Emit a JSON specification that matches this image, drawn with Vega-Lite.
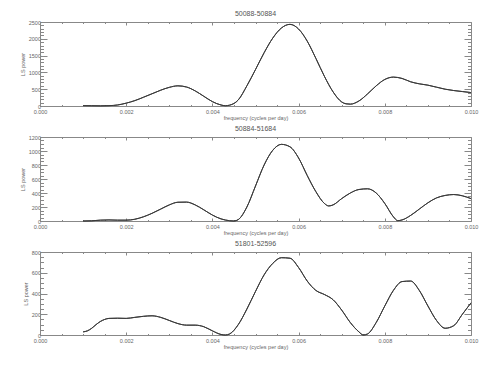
{
  "$schema": "https://vega.github.io/schema/vega-lite/v6.json",
  "background": "white",
  "padding": {"left": 20, "top": 10, "right": 4, "bottom": 4},
  "spacing": 4,
  "config": {
    "view": {"stroke": null},
    "font": "Liberation Sans",
    "axis": {"domainColor": "#888", "tickColor": "#888", "labelColor": "#666", "titleColor": "#666", "labelFont": "Liberation Sans", "titleFont": "Liberation Sans", "labelFontSize": 5.5, "titleFontSize": 5.5, "titleFontWeight": "normal", "grid": false, "domainWidth": 1, "tickWidth": 1},
    "title": {"font": "Liberation Sans", "fontSize": 7, "fontWeight": "normal", "color": "#555", "offset": 3},
    "line": {"color": "#3a3a3a", "strokeWidth": 1, "interpolate": "monotone"}
  },
  "datasets": {
    "p1": [
      {"f": 0.0010, "p": 10}, {"f": 0.0012, "p": 8}, {"f": 0.0014, "p": 5}, {"f": 0.0016, "p": 10},
      {"f": 0.0018, "p": 30}, {"f": 0.0020, "p": 85}, {"f": 0.0022, "p": 160}, {"f": 0.0024, "p": 260},
      {"f": 0.0026, "p": 365}, {"f": 0.0028, "p": 470}, {"f": 0.0030, "p": 555}, {"f": 0.0032, "p": 600},
      {"f": 0.0034, "p": 565}, {"f": 0.0036, "p": 450}, {"f": 0.0038, "p": 290}, {"f": 0.0040, "p": 130},
      {"f": 0.0042, "p": 30}, {"f": 0.0043, "p": 8}, {"f": 0.0044, "p": 25}, {"f": 0.0046, "p": 180},
      {"f": 0.0048, "p": 600}, {"f": 0.0050, "p": 1085}, {"f": 0.0052, "p": 1585}, {"f": 0.0054, "p": 2020},
      {"f": 0.0056, "p": 2320}, {"f": 0.0058, "p": 2430}, {"f": 0.0060, "p": 2290}, {"f": 0.0062, "p": 1930},
      {"f": 0.0064, "p": 1420}, {"f": 0.0066, "p": 880}, {"f": 0.0068, "p": 420}, {"f": 0.0070, "p": 120},
      {"f": 0.0071, "p": 65}, {"f": 0.0072, "p": 55}, {"f": 0.0074, "p": 150}, {"f": 0.0076, "p": 360},
      {"f": 0.0078, "p": 600}, {"f": 0.0080, "p": 790}, {"f": 0.0082, "p": 860}, {"f": 0.0084, "p": 820},
      {"f": 0.0086, "p": 720}, {"f": 0.0088, "p": 660}, {"f": 0.0090, "p": 620}, {"f": 0.0092, "p": 560},
      {"f": 0.0094, "p": 500}, {"f": 0.0096, "p": 460}, {"f": 0.0098, "p": 430}, {"f": 0.0100, "p": 400}
    ],
    "p2": [
      {"f": 0.0010, "p": 0}, {"f": 0.0012, "p": 3}, {"f": 0.0014, "p": 12}, {"f": 0.0016, "p": 15},
      {"f": 0.0018, "p": 12}, {"f": 0.0020, "p": 12}, {"f": 0.0022, "p": 25}, {"f": 0.0024, "p": 60},
      {"f": 0.0026, "p": 110}, {"f": 0.0028, "p": 170}, {"f": 0.0030, "p": 230}, {"f": 0.0032, "p": 268},
      {"f": 0.0034, "p": 270}, {"f": 0.0036, "p": 230}, {"f": 0.0038, "p": 160}, {"f": 0.0040, "p": 85},
      {"f": 0.0042, "p": 30}, {"f": 0.0044, "p": 4}, {"f": 0.0045, "p": 0}, {"f": 0.0046, "p": 20},
      {"f": 0.0048, "p": 200}, {"f": 0.0050, "p": 500}, {"f": 0.0052, "p": 800}, {"f": 0.0054, "p": 1010},
      {"f": 0.0056, "p": 1095}, {"f": 0.0058, "p": 1060}, {"f": 0.0060, "p": 900}, {"f": 0.0062, "p": 650},
      {"f": 0.0064, "p": 420}, {"f": 0.0066, "p": 250}, {"f": 0.0067, "p": 215}, {"f": 0.0068, "p": 230},
      {"f": 0.0070, "p": 320}, {"f": 0.0072, "p": 400}, {"f": 0.0074, "p": 450}, {"f": 0.0076, "p": 460},
      {"f": 0.0078, "p": 400}, {"f": 0.0080, "p": 250}, {"f": 0.0082, "p": 60}, {"f": 0.0083, "p": 5},
      {"f": 0.0084, "p": 15}, {"f": 0.0086, "p": 80}, {"f": 0.0088, "p": 170}, {"f": 0.0090, "p": 260},
      {"f": 0.0092, "p": 330}, {"f": 0.0094, "p": 365}, {"f": 0.0096, "p": 378}, {"f": 0.0098, "p": 360},
      {"f": 0.0100, "p": 320}
    ],
    "p3": [
      {"f": 0.0010, "p": 30}, {"f": 0.0011, "p": 40}, {"f": 0.0012, "p": 65}, {"f": 0.0013, "p": 100},
      {"f": 0.0014, "p": 130}, {"f": 0.0015, "p": 150}, {"f": 0.0016, "p": 160}, {"f": 0.0018, "p": 162},
      {"f": 0.0020, "p": 160}, {"f": 0.0022, "p": 170}, {"f": 0.0024, "p": 180}, {"f": 0.0026, "p": 185},
      {"f": 0.0028, "p": 170}, {"f": 0.0030, "p": 140}, {"f": 0.0032, "p": 110}, {"f": 0.0034, "p": 95},
      {"f": 0.0036, "p": 95}, {"f": 0.0038, "p": 80}, {"f": 0.0040, "p": 40}, {"f": 0.0042, "p": 5},
      {"f": 0.0043, "p": 0}, {"f": 0.0044, "p": 10}, {"f": 0.0046, "p": 100}, {"f": 0.0048, "p": 250},
      {"f": 0.0050, "p": 420}, {"f": 0.0052, "p": 580}, {"f": 0.0054, "p": 690}, {"f": 0.0056, "p": 745},
      {"f": 0.0058, "p": 740}, {"f": 0.0060, "p": 650}, {"f": 0.0062, "p": 520}, {"f": 0.0064, "p": 430},
      {"f": 0.0066, "p": 390}, {"f": 0.0068, "p": 340}, {"f": 0.0070, "p": 240}, {"f": 0.0072, "p": 120},
      {"f": 0.0074, "p": 30}, {"f": 0.0075, "p": 0}, {"f": 0.0076, "p": 10}, {"f": 0.0078, "p": 120},
      {"f": 0.0080, "p": 280}, {"f": 0.0082, "p": 430}, {"f": 0.0084, "p": 515}, {"f": 0.0086, "p": 520},
      {"f": 0.0088, "p": 430}, {"f": 0.0090, "p": 280}, {"f": 0.0092, "p": 140}, {"f": 0.0094, "p": 65},
      {"f": 0.0096, "p": 90}, {"f": 0.0098, "p": 200}, {"f": 0.0100, "p": 310}
    ]
  },
  "vconcat": [
    {
      "title": "50088-50884",
      "width": 431, "height": 84,
      "data": {"name": "p1"},
      "resolve": {"axis": {"x": "independent", "y": "independent"}},
      "layer": [
        {
          "mark": "line",
          "encoding": {
            "x": {"field": "f", "type": "quantitative", "scale": {"domain": [0, 0.01], "nice": false},
              "axis": {"orient": "bottom", "title": "frequency (cycles per day)", "titlePadding": 1,
                "values": [0,0.0005,0.001,0.0015,0.002,0.0025,0.003,0.0035,0.004,0.0045,0.005,0.0055,0.006,0.0065,0.007,0.0075,0.008,0.0085,0.009,0.0095,0.01],
                "labelExpr": "round(datum.value*10000) % 20 === 0 ? format(datum.value, '.3f') : ''",
                "tickSize": {"condition": {"test": "round(datum.value*10000) % 20 === 0", "value": -3}, "value": -1.5},
                "labelPadding": 6, "labelFlush": false}},
            "y": {"field": "p", "type": "quantitative", "scale": {"domain": [0, 2500], "nice": false},
              "axis": {"orient": "left", "title": "LS power", "titlePadding": 3,
                "values": [0,100,200,300,400,500,600,700,800,900,1000,1100,1200,1300,1400,1500,1600,1700,1800,1900,2000,2100,2200,2300,2400,2500],
                "labelExpr": "datum.value % 500 === 0 ? format(datum.value, 'd') : ''",
                "tickSize": {"condition": {"test": "datum.value % 500 === 0", "value": -7}, "value": -3.5},
                "labelPadding": 6.5, "labelOverlap": false}}
          }
        },
        {
          "mark": "line",
          "encoding": {
            "x": {"field": "f", "type": "quantitative",
              "axis": {"orient": "top", "title": null, "labels": false,
                "values": [0,0.0005,0.001,0.0015,0.002,0.0025,0.003,0.0035,0.004,0.0045,0.005,0.0055,0.006,0.0065,0.007,0.0075,0.008,0.0085,0.009,0.0095,0.01],
                "tickSize": {"condition": {"test": "round(datum.value*10000) % 20 === 0", "value": -3}, "value": -1.5}}},
            "y": {"field": "p", "type": "quantitative",
              "axis": {"orient": "right", "title": null, "labels": false,
                "values": [0,100,200,300,400,500,600,700,800,900,1000,1100,1200,1300,1400,1500,1600,1700,1800,1900,2000,2100,2200,2300,2400,2500],
                "tickSize": {"condition": {"test": "datum.value % 500 === 0", "value": -7}, "value": -3.5}}}
          }
        }
      ]
    },
    {
      "title": "50884-51684",
      "width": 431, "height": 84,
      "data": {"name": "p2"},
      "resolve": {"axis": {"x": "independent", "y": "independent"}},
      "layer": [
        {
          "mark": "line",
          "encoding": {
            "x": {"field": "f", "type": "quantitative", "scale": {"domain": [0, 0.01], "nice": false},
              "axis": {"orient": "bottom", "title": "frequency (cycles per day)", "titlePadding": 1,
                "values": [0,0.0005,0.001,0.0015,0.002,0.0025,0.003,0.0035,0.004,0.0045,0.005,0.0055,0.006,0.0065,0.007,0.0075,0.008,0.0085,0.009,0.0095,0.01],
                "labelExpr": "round(datum.value*10000) % 20 === 0 ? format(datum.value, '.3f') : ''",
                "tickSize": {"condition": {"test": "round(datum.value*10000) % 20 === 0", "value": -3}, "value": -1.5},
                "labelPadding": 6, "labelFlush": false}},
            "y": {"field": "p", "type": "quantitative", "scale": {"domain": [0, 1200], "nice": false},
              "axis": {"orient": "left", "title": "LS power", "titlePadding": 3,
                "values": [0,50,100,150,200,250,300,350,400,450,500,550,600,650,700,750,800,850,900,950,1000,1050,1100,1150,1200],
                "labelExpr": "datum.value % 200 === 0 ? format(datum.value, 'd') : ''",
                "tickSize": {"condition": {"test": "datum.value % 200 === 0", "value": -7}, "value": -3.5},
                "labelPadding": 6.5, "labelOverlap": false}}
          }
        },
        {
          "mark": "line",
          "encoding": {
            "x": {"field": "f", "type": "quantitative",
              "axis": {"orient": "top", "title": null, "labels": false,
                "values": [0,0.0005,0.001,0.0015,0.002,0.0025,0.003,0.0035,0.004,0.0045,0.005,0.0055,0.006,0.0065,0.007,0.0075,0.008,0.0085,0.009,0.0095,0.01],
                "tickSize": {"condition": {"test": "round(datum.value*10000) % 20 === 0", "value": -3}, "value": -1.5}}},
            "y": {"field": "p", "type": "quantitative",
              "axis": {"orient": "right", "title": null, "labels": false,
                "values": [0,50,100,150,200,250,300,350,400,450,500,550,600,650,700,750,800,850,900,950,1000,1050,1100,1150,1200],
                "tickSize": {"condition": {"test": "datum.value % 200 === 0", "value": -7}, "value": -3.5}}}
          }
        }
      ]
    },
    {
      "title": "51801-52596",
      "width": 431, "height": 83,
      "data": {"name": "p3"},
      "resolve": {"axis": {"x": "independent", "y": "independent"}},
      "layer": [
        {
          "mark": "line",
          "encoding": {
            "x": {"field": "f", "type": "quantitative", "scale": {"domain": [0, 0.01], "nice": false},
              "axis": {"orient": "bottom", "title": "frequency (cycles per day)", "titlePadding": 1,
                "values": [0,0.0005,0.001,0.0015,0.002,0.0025,0.003,0.0035,0.004,0.0045,0.005,0.0055,0.006,0.0065,0.007,0.0075,0.008,0.0085,0.009,0.0095,0.01],
                "labelExpr": "round(datum.value*10000) % 20 === 0 ? format(datum.value, '.3f') : ''",
                "tickSize": {"condition": {"test": "round(datum.value*10000) % 20 === 0", "value": -3}, "value": -1.5},
                "labelPadding": 6, "labelFlush": false}},
            "y": {"field": "p", "type": "quantitative", "scale": {"domain": [0, 800], "nice": false},
              "axis": {"orient": "left", "title": "LS power", "titlePadding": 3,
                "values": [0,50,100,150,200,250,300,350,400,450,500,550,600,650,700,750,800],
                "labelExpr": "datum.value % 200 === 0 ? format(datum.value, 'd') : ''",
                "tickSize": {"condition": {"test": "datum.value % 200 === 0", "value": -7}, "value": -3.5},
                "labelPadding": 6.5, "labelOverlap": false}}
          }
        },
        {
          "mark": "line",
          "encoding": {
            "x": {"field": "f", "type": "quantitative",
              "axis": {"orient": "top", "title": null, "labels": false,
                "values": [0,0.0005,0.001,0.0015,0.002,0.0025,0.003,0.0035,0.004,0.0045,0.005,0.0055,0.006,0.0065,0.007,0.0075,0.008,0.0085,0.009,0.0095,0.01],
                "tickSize": {"condition": {"test": "round(datum.value*10000) % 20 === 0", "value": -3}, "value": -1.5}}},
            "y": {"field": "p", "type": "quantitative",
              "axis": {"orient": "right", "title": null, "labels": false,
                "values": [0,50,100,150,200,250,300,350,400,450,500,550,600,650,700,750,800],
                "tickSize": {"condition": {"test": "datum.value % 200 === 0", "value": -7}, "value": -3.5}}}
          }
        }
      ]
    }
  ]
}
